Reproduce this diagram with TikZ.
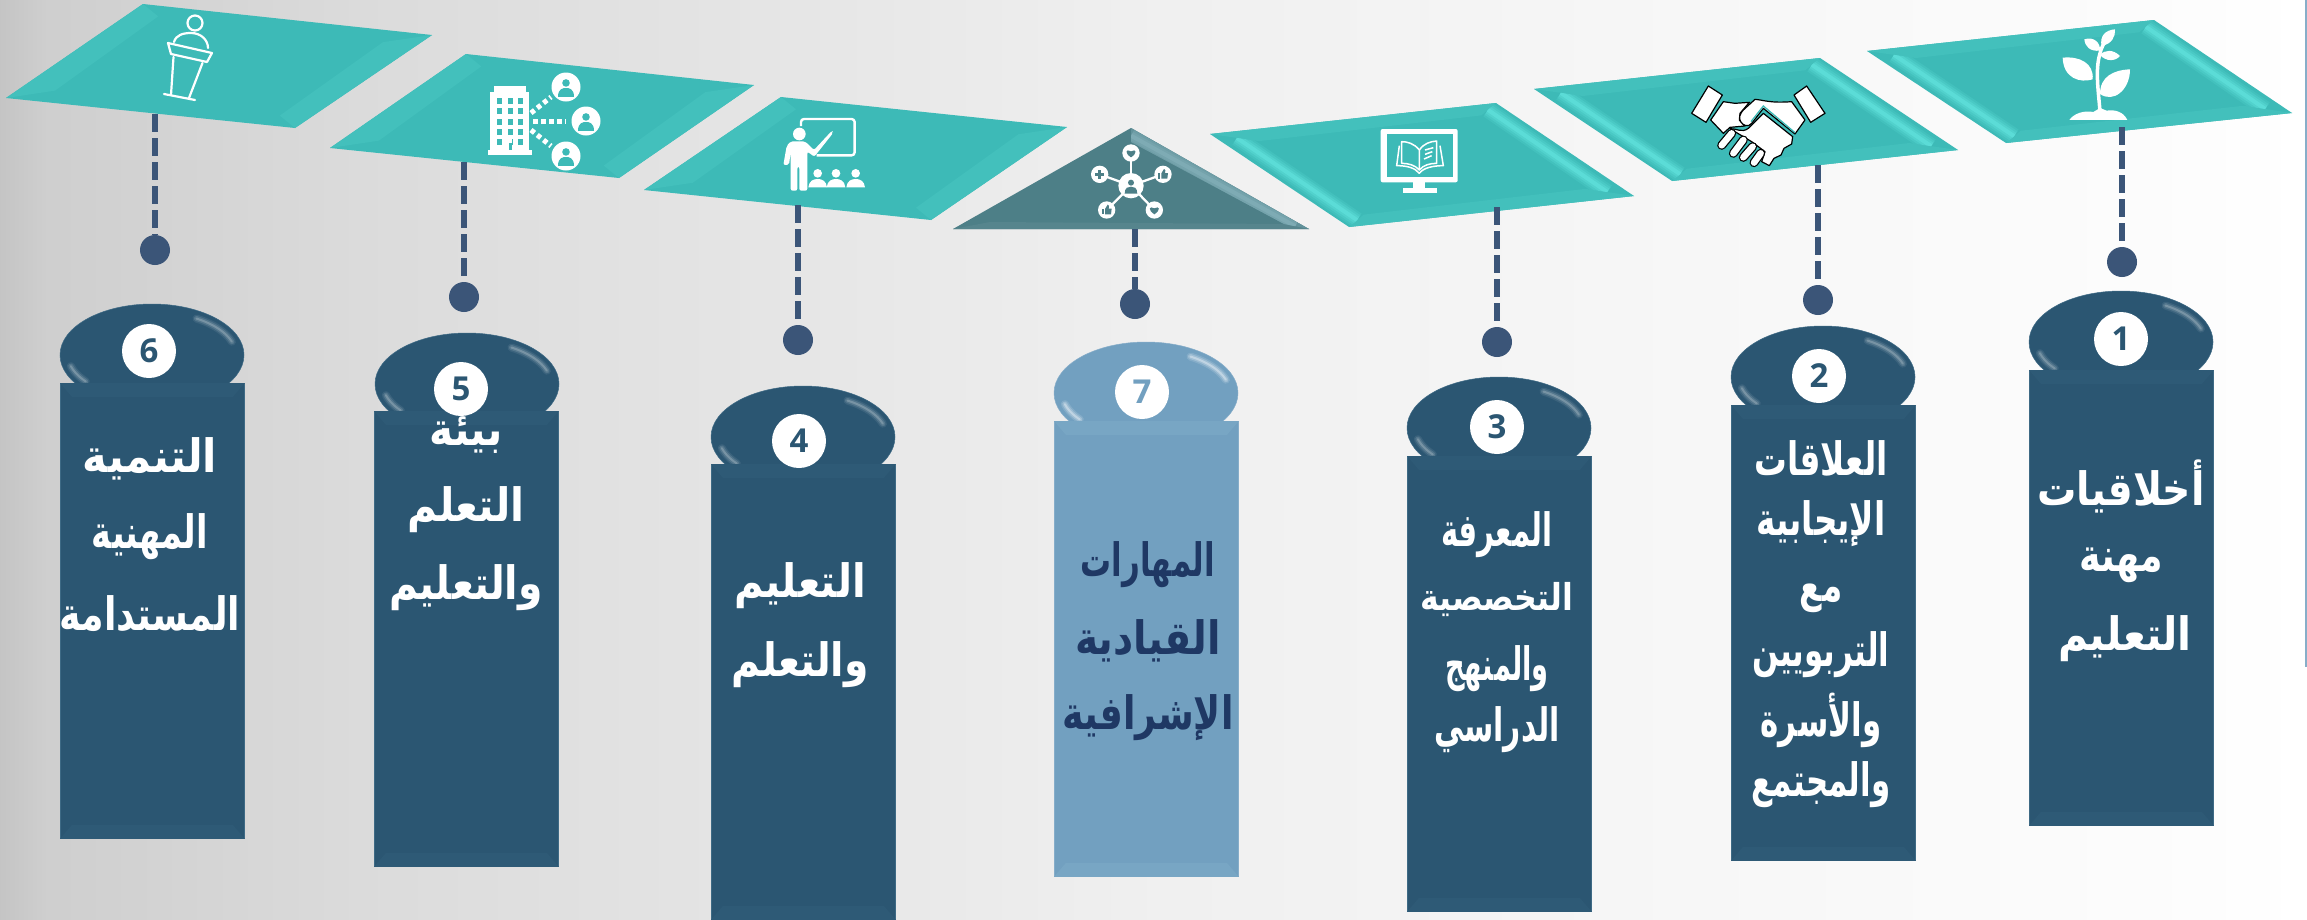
\documentclass[tikz,border=0pt]{standalone}
\usepackage{fontspec}
\usetikzlibrary{calc,shapes.geometric}
\TeXXeTstate=1
\newfontfamily\arabicfont[Script=Arabic,FakeStretch=0.79,BoldFont={DejaVu Sans Bold}]{DejaVu Sans}
\newfontfamily\numfont{Open Sans}
\definecolor{tealbase}{HTML}{3DBAB7}
\definecolor{teallight}{HTML}{43C0BC}
\definecolor{tealglow}{HTML}{72F6F0}
\definecolor{netbase}{HTML}{4D7F87}
\definecolor{netlight}{HTML}{62929B}
\definecolor{netglow}{HTML}{93BFC7}
\definecolor{navycol}{HTML}{2B5672}
\definecolor{navyedge}{HTML}{3E6A85}
\definecolor{navylight}{HTML}{2E5A76}
\definecolor{skycol}{HTML}{72A0C0}
\definecolor{skyedge}{HTML}{86ADC9}
\definecolor{skylight}{HTML}{78A6C4}
\definecolor{dashcol}{HTML}{3B5578}
\definecolor{inkdark}{HTML}{1F3864}
\pgfdeclarehorizontalshading{pagebg}{100bp}{
 color(0bp)=(black!23);
 color(25bp)=(black!23);
 color(26bp)=(black!19);
 color(33bp)=(black!14);
 color(43bp)=(black!9.5);
 color(50bp)=(black!6);
 color(60bp)=(black!3.5);
 color(72bp)=(black!1);
 color(75bp)=(black!0);
 color(100bp)=(black!0)}
\tikzset{
 x=1pt,y=-1pt,
 dropline/.style={draw=dashcol,line width=6.3pt,dash pattern=on 17.5pt off 6.5pt},
 dotnode/.style={circle,fill=dashcol,draw=none,minimum size=30pt,inner sep=0pt},
 capnavy/.style={ellipse,fill=navycol,draw=navyedge,line width=.5pt,minimum width=184pt,minimum height=102pt,inner sep=0pt},
 capsky/.style={ellipse,fill=skycol,draw=skyedge,line width=.5pt,minimum width=184pt,minimum height=102pt,inner sep=0pt},
 colnavy/.style={rectangle,fill=navycol,draw=navyedge,line width=.8pt,minimum width=184pt,minimum height=455pt,inner sep=0pt,anchor=north west},
 colsky/.style={rectangle,fill=skycol,draw=skyedge,line width=.8pt,minimum width=184pt,minimum height=455pt,inner sep=0pt,anchor=north west},
 badge/.style={circle,fill=white,draw=none,minimum size=54pt,inner sep=0pt,text=navycol,font=\numfont\bfseries\fontsize{33}{33}\selectfont},
 lab/.style={text=white,inner sep=0pt,font=\arabicfont\bfseries\fontsize{46}{46}\selectfont},
 labsmall/.style={text=white,inner sep=0pt,font=\arabicfont\bfseries\fontsize{37}{37}\selectfont},
 labdark/.style={text=inkdark,inner sep=0pt,font=\arabicfont\bfseries\fontsize{46}{46}\selectfont},
 iconline/.style={draw=white,line width=2.2pt,line cap=round,line join=round},
 zoomed/.style={x=.3333pt,y=-.3333pt}
}
% panel: name, top, right, bottom, left, glow opacity factor
\newcommand\panel[6]{%
 \coordinate (#1T) at (#2);\coordinate (#1R) at (#3);\coordinate (#1B) at (#4);\coordinate (#1L) at (#5);
 \coordinate (#1m) at ($(#1T)!.5!(#1B)$);
 \coordinate (#1t) at ($(#1T)!.2!(#1m)$);\coordinate (#1b) at ($(#1B)!.2!(#1m)$);
 \coordinate (#1l) at ($(#1L)!.23!(#1m)$);\coordinate (#1r) at ($(#1R)!.23!(#1m)$);
 \fill[tealbase] (#1T)--(#1R)--(#1B)--(#1L)--cycle;
 \fill[teallight] (#1L)--(#1T)--(#1t)--(#1l)--cycle;
 \fill[teallight] (#1R)--(#1B)--(#1b)--(#1r)--cycle;
 \glowedge{#1T}{#1R}{#1r}{#1t}{#6}{tealglow}%
 \glowedge{#1L}{#1B}{#1b}{#1l}{#6}{tealglow}%
}
% glow along a bevel strip between outer edge A-B and inner edge c-d
\newcommand\glowedge[6]{%
 \begin{scope}
 \clip (#1)--(#2)--(#3)--(#4)--cycle;
 \foreach \w/\o in {16/.12,12/.16,8/.2,4/.3}{
  \draw[#6,line width=\w pt,opacity=#5*\o] ($(#1)!.55!(#4)$)--($(#2)!.55!(#3)$);}
 \end{scope}%
}
\newcommand\capshine[3]{% centre name, colour, opacity
 \begin{scope}[shift={(#1)}]
 \foreach \w/\o in {8/.06,5/.1,2/.16}{
 \draw[#2,line width=\w pt,opacity=#3*\o,line cap=round]
   plot[smooth,domain=-58:-18,samples=9] ({84*cos(\x)},{43*sin(\x)});
 \draw[#2,line width=\w pt,opacity=#3*\o,line cap=round]
   plot[smooth,domain=142:165,samples=6] ({84*cos(\x)},{43*sin(\x)});}
 \end{scope}%
}
\newcommand\colbevel[2]{%
 \fill[#2] (#1.north west)--(#1.north east)--++(-12,14)--($(#1.north west)+(12,14)$)--cycle;
 \fill[#2] (#1.south west)--(#1.south east)--++(-12,-14)--($(#1.south west)+(12,-14)$)--cycle;
}
\newcommand\personglyph[1]{% at current scope origin, zoomed units
 \fill[#1] (0,-12) circle[radius=9];
 \fill[#1] (-19,21) .. controls (-19,2) and (-8,0) .. (0,0) .. controls (8,0) and (19,2) .. (19,21) -- cycle;
}
\newcommand\heartglyph{\fill[netbase] (0,13) .. controls (-20,0) and (-16,-14) .. (0,-5) .. controls (16,-14) and (20,0) .. (0,13) -- cycle;}
\newcommand\thumbglyph{\fill[netbase] (-15,-3) rectangle (-8,13);\fill[netbase] (-5,-3) -- (3,-16) -- (7,-12) -- (6,-4) -- (15,-4) -- (13,13) -- (-5,13) -- cycle;}
\begin{document}
\begin{tikzpicture}
\useasboundingbox (0,0) rectangle (2307,919);
\begin{scope}
\clip (0,0) rectangle (2307,919);
\shade[shading=pagebg] (0,0) rectangle (2307,919);
\fill[skycol!85!white] (2305,0) rectangle (2307,667);

% panels
\panel{pf}{143,4}{432,35}{295,128}{6,98}{0}
\panel{pe}{466,54}{754,85}{619,178}{330,148}{0}
\panel{pd}{781,97}{1067,127}{931,220}{644,190}{0}
\panel{pc}{1496,103}{1634,196}{1349,227}{1210,134}{1}
\panel{pb}{1820,58}{1958,150}{1672,181}{1534,89}{1}
\panel{pa}{2154,20}{2292,113}{2006,143}{1867,51}{1}
% triangle panel
\coordinate (pgT) at (1131,128);\coordinate (pgR) at (1309,229);\coordinate (pgL) at (953,229);
\coordinate (pgt) at (1131,142);\coordinate (pgr) at (1284,224);\coordinate (pgl) at (990,222);
\fill[netbase] (pgT)--(pgR)--(pgL)--cycle;
\fill[netbase!95!white] (pgL)--(pgR)--(pgr)--(pgl)--cycle;
\fill[netlight] (pgT)--(pgR)--(pgr)--(pgt)--cycle;
\glowedge{pgT}{pgR}{pgr}{pgt}{1}{netglow}

% connector ends
\coordinate (dropa) at (2122,127);\coordinate (dropb) at (1818,165);\coordinate (dropc) at (1497,207);
\coordinate (dropd) at (798,205);\coordinate (drope) at (464,162);\coordinate (dropf) at (155,114);
\coordinate (dropg) at (1135,229);
\node[dotnode] (dota) at (2122,262) {};
\node[dotnode] (dotb) at (1818,300) {};
\node[dotnode] (dotc) at (1497,342) {};
\node[dotnode] (dotd) at (798,340) {};
\node[dotnode] (dote) at (464,297) {};
\node[dotnode] (dotf) at (155,250) {};
\node[dotnode] (dotg) at (1135,304) {};
\foreach \k in {a,b,c,d,e,f,g}{\draw[dropline] (drop\k)--(dot\k.north);}

% caps
\node[capnavy] (capa) at (2121,342) {};
\node[capnavy] (capb) at (1823,377) {};
\node[capnavy] (capc) at (1499,428) {};
\node[capnavy] (capd) at (803,437) {};
\node[capnavy] (cape) at (467,384) {};
\node[capnavy] (capf) at (152,355) {};
\node[capsky]  (capg) at (1146,393) {};
\foreach \k in {a,b,c,d,e,f}{\capshine{cap\k}{white}{1.3}}
\capshine{capg}{white}{2.2}

% columns
\node[colnavy] (cola) at (2029,370) {};
\node[colnavy] (colb) at (1731,405) {};
\node[colnavy] (colc) at (1407,456) {};
\node[colnavy] (cold) at (711,464) {};
\node[colnavy] (cole) at (374,411) {};
\node[colnavy] (colf) at (60,383) {};
\node[colsky]  (colg) at (1054,421) {};
\foreach \k in {a,b,c,d,e,f}{\colbevel{col\k}{navylight}}
\colbevel{colg}{skylight}

% badges
\node[badge] (bada) at (2121,339) {1};
\node[badge] (badb) at (1819,376) {2};
\node[badge] (badc) at (1497,427) {3};
\node[badge] (badd) at (799,441) {4};
\node[badge] (bade) at (461,389) {5};
\node[badge] (badf) at (149,351) {6};
\node[badge,text=skycol] (badg) at (1142,392) {7};

% labels
\node[lab,xscale=1.08] (ta1) at (2121,486) {\beginR أخلاقيات\endR};
\node[lab] (ta2) at (2121,565) {\beginR مهنة\endR};
\node[lab,xscale=1.12] (ta3) at (2125,639) {\beginR التعليم\endR};
\node[lab,xscale=.9] (tb1) at (1821,458) {\beginR العلاقات\endR};
\node[lab,xscale=.9] (tb2) at (1821,524) {\beginR الإيجابية\endR};
\node[lab,xscale=.9] (tb3) at (1821,598) {\beginR مع\endR};
\node[lab,xscale=.85] (tb4) at (1821,655) {\beginR التربويين\endR};
\node[lab,xscale=.85] (tb5) at (1821,720) {\beginR والأسرة\endR};
\node[lab,xscale=.85] (tb6) at (1821,785) {\beginR والمجتمع\endR};
\node[lab,xscale=.8] (tc1) at (1497,535) {\beginR المعرفة\endR};
\node[labsmall,xscale=1.08] (tc2) at (1497,600) {\beginR التخصصية\endR};
\node[lab,xscale=.75] (tc3) at (1497,669) {\beginR والمنهج\endR};
\node[lab,xscale=.82] (tc4) at (1497,730) {\beginR الدراسي\endR};
\node[lab,xscale=1.1] (td1) at (800,586) {\beginR التعليم\endR};
\node[lab,xscale=1.08] (td2) at (800,665) {\beginR والتعلم\endR};
\node[lab,xscale=1.12] (te1) at (466,435) {\beginR بيئة\endR};
\node[lab,xscale=1.12] (te2) at (466,510) {\beginR التعلم\endR};
\node[lab,xscale=1.08] (te3) at (466,588) {\beginR والتعليم\endR};
\node[lab,xscale=1.15] (tf1) at (150,459) {\beginR التنمية\endR};
\node[lab,xscale=.92] (tf2) at (150,537) {\beginR المهنية\endR};
\node[lab] (tf3) at (150,614) {\beginR المستدامة\endR};
\node[labdark,xscale=.85] (tg1) at (1148,565) {\beginR المهارات\endR};
\node[labdark,xscale=1.08] (tg2) at (1148,641) {\beginR القيادية\endR};
\node[labdark] (tg3) at (1148,718) {\beginR الإشرافية\endR};

% ---------- icons ----------
% lectern
\begin{scope}[iconline]
\draw (195,23) ellipse[x radius=7.5,y radius=7.5];
\draw (174,42) .. controls (176,35) and (183,33) .. (191,33) .. controls (201,33) and (208,40) .. (208,48);
\draw (168,43)--(212,53)--(207,62)--(171,54)--cycle;
\draw (173.5,57)--(171,95);\draw (202.5,63)--(189,98);
\draw (164,94)--(195,100);
\end{scope}
% building
\fill[white] (490,92) rectangle (529,150);\fill[white] (494,86) rectangle (525.5,92);\fill[white] (488,150) rectangle (532,155);
\foreach \cx in {499,510,520}{\foreach \cy in {101,111,122,132,142}{\fill[tealbase] (\cx-2.5,\cy-2.7) rectangle (\cx+2.5,\cy+2.7);}}
\fill[white] (508,137) rectangle (512,146);
\fill[tealbase] (508.5,143) rectangle (511.5,150);
\foreach \px/\py in {566/87,586/121,566/156}{
 \fill[white] (\px,\py) circle[radius=14.5];
 \begin{scope}[shift={(\px,\py+1)},x=.42pt,y=-.42pt]\personglyph{tealbase}\end{scope}}
\draw[white,line width=5pt,dash pattern=on 4.5pt off 3.5pt] (531,113)--(551,97);
\draw[white,line width=5pt,dash pattern=on 4.5pt off 3.5pt] (533,121)--(566,121);
\draw[white,line width=5pt,dash pattern=on 4.5pt off 3.5pt] (531,130)--(551,146);
% teacher
\begin{scope}[shift={(770,110)},zoomed]
\draw[white,line width=2.4pt,line join=round,rounded corners=3pt] (93,48)--(93,27)--(254,27)--(254,136)--(140,136);
\fill[white] (88,72) circle[radius=19];
\fill[white,rounded corners=2pt] (40,165)--(50,108)--(62,94)--(105,94)--(132,120)--(186,62)--(190,68)--(133,140)--(112,125)--(112,242)--(88,242)--(88,170)--(82,170)--(82,242)--(62,242)--(62,125)--(57,165)--cycle;
\foreach \q in {143,198,257}{
 \fill[white] (\q,190) circle[radius=13];
 \fill[white] (\q-28,232) .. controls (\q-26,212) and (\q-12,207) .. (\q,207) .. controls (\q+12,207) and (\q+26,212) .. (\q+28,232) -- cycle;}
\end{scope}
% monitor and book
\begin{scope}[shift={(1380,125)},zoomed]
\fill[white,rounded corners=2pt] (2,12) rectangle (233,172);
\fill[tealbase] (20,28) rectangle (218,155);
\fill[white] (100,172) rectangle (135,192);\fill[white] (70,190) rectangle (172,205);
\draw[white,line width=1.5pt,line join=round] (118,75) .. controls (102,55) and (82,50) .. (65,50) -- (65,115) .. controls (85,115) and (105,120) .. (118,135) -- cycle;
\draw[white,line width=1.5pt,line join=round] (118,75) .. controls (132,55) and (150,50) .. (170,48) -- (170,115) .. controls (150,115) and (130,120) .. (118,135);
\draw[white,line width=1.5pt,line join=round] (58,62) -- (50,122) .. controls (80,122) and (105,128) .. (118,145) .. controls (130,128) and (160,122) .. (190,122) -- (180,62);
\draw[white,line width=1.5pt] (135,75)--(160,68) (135,88)--(157,80) (132,102)--(155,92);
\end{scope}
% network
\begin{scope}[shift={(1085,135)},zoomed]
\foreach \nx/\ny in {138/54,44/118,234/118,65/225,208/225}{\draw[white,line width=2.3pt] (138,152)--(\nx,\ny);\fill[white] (\nx,\ny) circle[radius=26];}
\fill[white] (138,152) circle[radius=38];
\begin{scope}[shift={(138,155)}]\personglyph{netbase}\end{scope}
\begin{scope}[shift={(138,54)}]\heartglyph\end{scope}
\begin{scope}[shift={(208,225)}]\heartglyph\end{scope}
\begin{scope}[shift={(234,118)}]\thumbglyph\end{scope}
\begin{scope}[shift={(65,225)}]\thumbglyph\end{scope}
\fill[netbase] (30,114) rectangle (58,122);\fill[netbase] (40,104) rectangle (48,132);
\end{scope}
% handshake
\begin{scope}[shift={(1680,70)},zoomed]
\tikzset{hs/.style={fill=white,draw=black,line width=1.2pt,line join=round}}
\draw[hs] (85,48)--(127,75)--(78,157)--(35,130)--cycle;
\draw[hs] (380,48)--(435,130)--(392,157)--(342,75)--cycle;
\draw[hs] (130,95)--(165,100)--(208,97)--(180,130)--(178,150)--(195,168)--(150,172)--(130,190)--(92,150)--cycle;
\draw[hs] (150,176) .. controls (170,175) and (185,190) .. (205,175) -- (250,130) -- (338,200) -- (335,222) -- (312,235) -- (303,255) -- (282,265) -- (268,287) -- (245,275) -- (255,245) -- (215,215) -- cycle;
\draw[hs] (225,88) .. controls (250,90) and (270,100) .. (335,95) -- (375,150) -- (345,192) -- (250,115) -- (215,160) .. controls (205,172) and (190,168) .. (182,155) .. controls (175,145) and (180,130) .. (190,120) -- cycle;
\foreach \ax/\ay/\bx/\by in {125/226/155/190,160/250/190/210,190/262/218/230,222/278/242/250}{
 \draw[black,line width=9pt,line cap=round] (\ax,\ay)--(\bx,\by);
 \draw[white,line width=6.5pt,line cap=round] (\ax,\ay)--(\bx,\by);}
\draw[tealbase,line width=1.3pt] (345,188)--(250,108) -- (213,155);
\end{scope}
% plant
\begin{scope}[shift={(2050,20)},zoomed]
\fill[white] (38,113) .. controls (90,108) and (132,130) .. (128,178) .. controls (90,190) and (40,175) .. cycle;
\fill[white] (240,148) .. controls (190,150) and (150,170) .. (150,222) .. controls (190,250) and (240,210) .. cycle;
\fill[white] (195,28) .. controls (165,30) and (148,50) .. (155,78) .. controls (185,72) and (197,50) .. cycle;
\fill[white] (103,58) .. controls (130,48) and (152,68) .. (150,92) .. controls (120,95) and (105,80) .. cycle;
\fill[white] (210,108) .. controls (190,88) and (165,88) .. (150,105) .. controls (168,125) and (195,125) .. cycle;
\draw[white,line width=3.5pt] (150,275) .. controls (145,210) and (135,150) .. (150,100) .. controls (153,85) and (160,75) .. (165,62);
\fill[white] (58,300) .. controls (70,282) and (100,270) .. (130,276) -- (150,264) -- (170,272) .. controls (195,268) and (220,275) .. (232,300) -- cycle;
\end{scope}
\end{scope}
\end{tikzpicture}
\end{document}
